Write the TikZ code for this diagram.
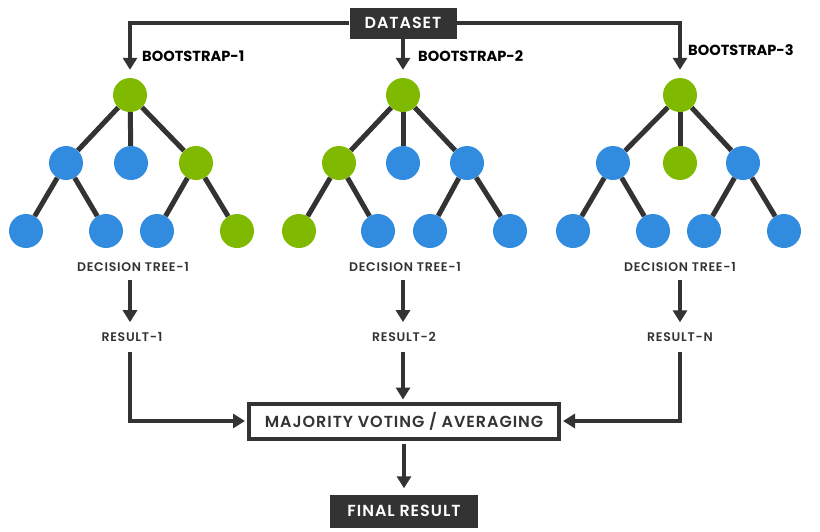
\documentclass[tikz,border=0pt]{standalone}
\usepackage{fontspec}
\setmainfont{Poppins}
\newfontfamily\spacedfont[LetterSpace=6, BoldFont={Poppins SemiBold}]{Poppins}
\usetikzlibrary{arrows.meta}
\definecolor{leafgreen}{HTML}{7FBA00}
\definecolor{leafblue}{HTML}{318CE0}
\definecolor{darkgrey}{HTML}{333333}
\tikzstyle{pointgreen}=[circle, fill=leafgreen, minimum size=34pt, inner sep=0pt]
\tikzstyle{pointblue}=[circle, fill=leafblue, minimum size=34pt, inner sep=0pt]
\tikzstyle{branch}=[draw=darkgrey, line width=5pt]
\tikzstyle{arrow}=[draw=darkgrey, line width=4pt, -{Triangle[length=12pt,width=14pt]}]
\tikzstyle{bootlabel}=[anchor=west, font=\fontsize{14.6}{16}\selectfont\bfseries, inner sep=0pt]
\tikzstyle{smalltext}=[font=\spacedfont\fontsize{12.5}{14}\selectfont\bfseries, text=darkgrey, inner sep=0pt]
\tikzstyle{darkbox}=[fill=darkgrey, text=white, font=\spacedfont\fontsize{16}{18}\selectfont\bfseries, inner sep=0pt]

\begin{document}
\begin{tikzpicture}[x=1pt, y=-1pt]
		   \useasboundingbox (0,0) rectangle (820,531);
		   \begin{scope}
			   % dataset and bootstraps
			   \node (ds) at (403, 23)[darkbox, minimum width=107pt, minimum height=31pt] {DATASET};
			   \node (b1) at (142, 56)[bootlabel] {BOOTSTRAP-1};
			   \node (b2) at (418, 56)[bootlabel] {BOOTSTRAP-2};
			   \node (b3) at (688, 50)[bootlabel] {BOOTSTRAP-3};
		   \end{scope}
		   \begin{scope}
			   % tree 1
			   \node (10) at (130, 95)[pointgreen] {};
			   \node (11) at (66, 163)[pointblue] {};
			   \node (12) at (131, 163)[pointblue] {};
			   \node (13) at (196, 163)[pointgreen] {};
			   \node (14) at (26, 231)[pointblue] {};
			   \node (15) at (106, 231)[pointblue] {};
			   \node (16) at (157, 231)[pointblue] {};
			   \node (17) at (237, 231)[pointgreen] {};
			   % tree 2
			   \node (20) at (403, 95)[pointgreen] {};
			   \node (21) at (339, 163)[pointgreen] {};
			   \node (22) at (403, 163)[pointblue] {};
			   \node (23) at (467, 163)[pointblue] {};
			   \node (24) at (299, 231)[pointgreen] {};
			   \node (25) at (378, 231)[pointblue] {};
			   \node (26) at (430, 231)[pointblue] {};
			   \node (27) at (510, 231)[pointblue] {};
			   % tree 3
			   \node (30) at (680, 95)[pointgreen] {};
			   \node (31) at (613, 163)[pointblue] {};
			   \node (32) at (680, 163)[pointgreen] {};
			   \node (33) at (743, 163)[pointblue] {};
			   \node (34) at (573, 231)[pointblue] {};
			   \node (35) at (653, 231)[pointblue] {};
			   \node (36) at (704, 231)[pointblue] {};
			   \node (37) at (784, 231)[pointblue] {};
		   \end{scope}
		   \begin{scope}
			   \path [branch] (10) edge (11);
			   \path [branch] (10) edge (12);
			   \path [branch] (10) edge (13);
			   \path [branch] (11) edge (14);
			   \path [branch] (11) edge (15);
			   \path [branch] (13) edge (16);
			   \path [branch] (13) edge (17);
			   \path [branch] (20) edge (21);
			   \path [branch] (20) edge (22);
			   \path [branch] (20) edge (23);
			   \path [branch] (21) edge (24);
			   \path [branch] (21) edge (25);
			   \path [branch] (23) edge (26);
			   \path [branch] (23) edge (27);
			   \path [branch] (30) edge (31);
			   \path [branch] (30) edge (32);
			   \path [branch] (30) edge (33);
			   \path [branch] (31) edge (34);
			   \path [branch] (31) edge (35);
			   \path [branch] (33) edge (36);
			   \path [branch] (33) edge (37);
		   \end{scope}
		   \begin{scope}
			   % results and voting
			   \node (dt1) at (133, 267)[smalltext] {DECISION TREE-1};
			   \node (dt2) at (405, 267)[smalltext] {DECISION TREE-1};
			   \node (dt3) at (680, 267)[smalltext] {DECISION TREE-1};
			   \node (res1) at (132, 337)[smalltext] {RESULT-1};
			   \node (res2) at (404, 337)[smalltext] {RESULT-2};
			   \node (res3) at (680, 337)[smalltext] {RESULT-N};
			   \node (mv) at (404, 421)[draw=darkgrey, line width=4pt, text=darkgrey, minimum width=310pt, minimum height=35pt, inner sep=0pt, font=\spacedfont\fontsize{16}{18}\selectfont\bfseries] {MAJORITY VOTING / AVERAGING};
			   \node (fr) at (404, 511)[darkbox, minimum width=148pt, minimum height=33pt] {FINAL RESULT};
		   \end{scope}
		   \begin{scope}
			   \draw [arrow, shorten >=8pt] (ds.west) -| (10);
			   \draw [arrow, shorten >=8pt] (ds.east) -| (30);
			   \draw [arrow, shorten >=8pt] (ds) -- (20);
			   \draw [arrow, shorten <=8pt, shorten >=10pt] (dt1.south -| 10) -- (res1.north -| 10);
			   \draw [arrow, shorten <=8pt, shorten >=10pt] (dt2.south -| 20) -- (res2.north -| 20);
			   \draw [arrow, shorten <=8pt, shorten >=10pt] (dt3) -- (res3);
			   \draw [arrow, shorten <=10pt, shorten >=2pt] (res1.south -| 10) |- (mv);
			   \draw [arrow, shorten <=10pt, shorten >=2pt] (res3) |- (mv);
			   \draw [arrow, shorten <=10pt, shorten >=2pt] (res2.south -| 20) -- (mv.north -| 20);
			   \draw [arrow, shorten <=3pt, shorten >=6pt] (mv) -- (fr);
		   \end{scope}
	   \end{tikzpicture}
\end{document}
